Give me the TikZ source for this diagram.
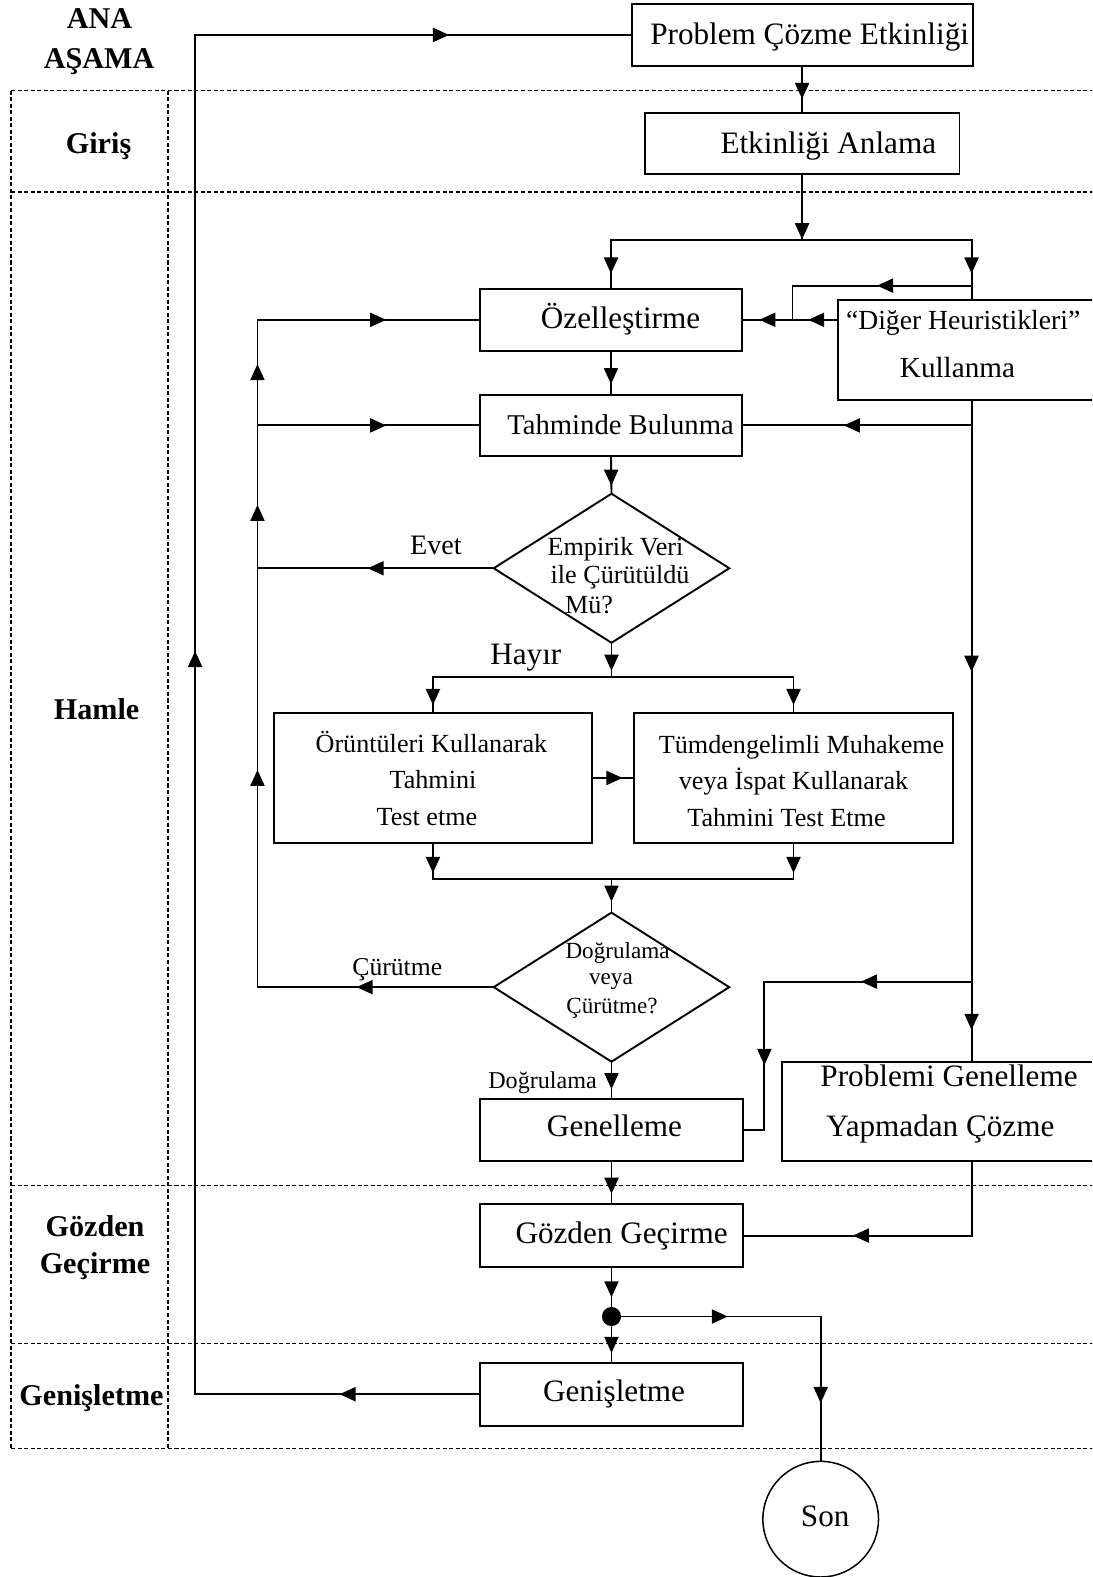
\documentclass[tikz,border=0pt]{standalone}
\usepackage{fontspec}
\setmainfont{Liberation Serif}
\usetikzlibrary{arrows.meta,decorations.markings,shapes.geometric}
\begin{document}
\begin{tikzpicture}[x=1pt,y=-1pt,
  box/.style={draw,rectangle,inner sep=0pt,line width=1.9pt},
  dia/.style={draw,diamond,inner sep=0pt,minimum width=235pt,minimum height=149pt,line width=1.9pt},
  conn/.style={line width=1.9pt,line cap=rect},
  ar/.style={conn,postaction={decorate},decoration={markings,mark=at position #1 with {\arrow{Triangle[length=16pt,width=14pt]}}}},
  frame/.style={line width=1.3pt,dash pattern=on 4pt off 2.5pt},
  txt/.style={anchor=base,inner sep=0pt},
  fsz/.style={font=\fontsize{#1}{#1}\selectfont},
  lab/.style={txt,font=\bfseries\fontsize{30}{36}\selectfont},
]
\useasboundingbox (0,0) rectangle (1086,1568);
\clip (0,0) rectangle (1086,1568);

% dashed phase frame
\draw[frame] (11,90) -- (1095,90);
\draw[frame] (11,191) -- (1095,191);
\draw[frame] (11,1179) -- (1095,1179);
\draw[frame] (11,1336) -- (1095,1336);
\draw[frame] (11,1440) -- (1095,1440);
\draw[frame] (11,90) -- (11,1440);
\draw[frame] (167,90) -- (167,1440);

% phase labels
\node[lab] (lana) at (99,28.2) {ANA};
\node[lab] (lasama) at (98.5,68) {AŞAMA};
\node[lab] (lgiris) at (98,152.5) {Giriş};
\node[lab] (lhamle) at (96,715) {Hamle};
\node[lab] (lgozden) at (94.5,1229.6) {Gözden};
\node[lab] (lgecirme) at (94.5,1266) {Geçirme};
\node[lab] (lgenis) at (91,1397) {Genişletme};

% boxes
\node[box,minimum width=339pt,minimum height=61.5pt] (pce) at (797.5,34.75) {};
\node[txt,fsz=31] (pcet) at (805,43.8) {Problem Çözme Etkinliği};
\node[box,minimum width=313pt,minimum height=61pt] (ea) at (797.5,142.5) {};
\node[txt,fsz=31] (eat) at (823.6,152.5) {Etkinliği Anlama};
\node[box,minimum width=261pt,minimum height=62pt] (oz) at (607.5,318) {};
\node[txt,fsz=31] (ozt) at (617,326.5) {Özelleştirme};
\node[box,minimum width=287pt,minimum height=100pt] (dh) at (976.5,348) {};
\node[txt,anchor=base west,fsz=27.5] (dht) at (841,328) {“Diğer Heuristikleri”};
\node[txt,fsz=29] (dht2) at (952,375) {Kullanma};
\node[box,minimum width=261pt,minimum height=60pt] (tb) at (607.5,423) {};
\node[txt,fsz=28.5] (tbt) at (617,432.5) {Tahminde Bulunma};

\node[dia] (d1) at (608,565) {};
\node[txt,fsz=26] (d1a) at (612,552.5) {Empirik Veri};
\node[txt,fsz=26] (d1b) at (616.5,580) {ile Çürütüldü};
\node[txt,fsz=26] (d1c) at (585.7,609.7) {Mü?};
\node[txt,fsz=28] (evet) at (433.4,551) {Evet};
\node[txt,fsz=31] (hayir) at (522.8,661) {Hayır};

\node[box,minimum width=317pt,minimum height=129pt] (oru) at (430.5,773.5) {};
\node[txt,fsz=26] (orua) at (429,748.4) {Örüntüleri Kullanarak};
\node[txt,fsz=26] (orub) at (430.5,784) {Tahmini};
\node[txt,fsz=26] (oruc) at (424.5,820.3) {Test etme};
\node[box,minimum width=318pt,minimum height=129pt] (tum) at (789,773.5) {};
\node[txt,fsz=26] (tuma) at (797,749) {Tümdengelimli Muhakeme};
\node[txt,fsz=26] (tumb) at (789,784.8) {veya İspat Kullanarak};
\node[txt,fsz=26] (tumc) at (782,821.3) {Tahmini Test Etme};

\node[dia] (d2) at (608,981.5) {};
\node[txt,fsz=23] (d2a) at (614,952.9) {Doğrulama};
\node[txt,fsz=23] (d2b) at (607.5,978.4) {veya};
\node[txt,fsz=23] (d2c) at (608.6,1007.6) {Çürütme?};
\node[txt,fsz=25.5] (curut) at (395,969.5) {Çürütme};
\node[txt,fsz=24] (dogru) at (539.5,1082) {Doğrulama};

\node[box,minimum width=261pt,minimum height=61.5pt] (gen) at (608,1123.75) {};
\node[txt,fsz=31] (gent) at (611,1130.2) {Genelleme};
\node[box,minimum width=342.5pt,minimum height=98.5pt] (pg) at (948.75,1105.25) {};
\node[txt,fsz=31] (pga) at (943.6,1080) {Problemi Genelleme};
\node[txt,fsz=31] (pgb) at (935,1130.2) {Yapmadan Çözme};
\node[box,minimum width=261pt,minimum height=63pt] (gg) at (608,1228.5) {};
\node[txt,fsz=31] (ggt) at (618,1236) {Gözden Geçirme};
\node[circle,fill,inner sep=0pt,minimum size=19pt] (dot) at (608,1309) {};
\node[box,minimum width=261pt,minimum height=62.5pt] (gn) at (608,1386.25) {};
\node[txt,fsz=31] (gnt) at (610.5,1393.7) {Genişletme};
\node[draw,circle,inner sep=0pt,minimum size=115pt,line width=1.5pt] (son) at (816,1510.5) {};
\node[txt,fsz=31] (sont) at (820.5,1518) {Son};

% coordinates
\coordinate (J1) at (797.5,239);
\coordinate (J1L) at (607.5,239);
\coordinate (J1R) at (966,239);
\coordinate (DN) at (966,298);
\coordinate (BR) at (966,284);
\coordinate (B1) at (788,284);
\coordinate (B2) at (788,318);
\coordinate (DW) at (833,318);
\coordinate (DS) at (966,398);
\coordinate (R1) at (966,423);
\coordinate (R2) at (966,976);
\coordinate (PN) at (966,1056);
\coordinate (G1) at (760,976);
\coordinate (G2) at (760,1123.75);
\coordinate (PS) at (966,1154.5);
\coordinate (R3) at (966,1228.5);
\coordinate (L1) at (256,318);
\coordinate (L2) at (256,423);
\coordinate (L3) at (256,565);
\coordinate (L4) at (256,981.5);
\coordinate (J2) at (608,673);
\coordinate (J2L) at (430.5,673);
\coordinate (J2R) at (789,673);
\coordinate (J3) at (608,874);
\coordinate (J3L) at (430.5,874);
\coordinate (J3R) at (789,874);
\coordinate (SN) at (816,1309);
\coordinate (LB) at (194,1386.25);
\coordinate (LT) at (194,34.75);

% connectors
\draw[ar=32pt] (pce.south) -- (ea.north);
\draw[ar=64pt] (ea.south) -- (J1);
\draw[conn] (J1L) -- (J1R);
\draw[ar=33pt] (J1L) -- (oz.north);
\draw[ar=33pt] (J1R) -- (DN);
\draw[ar=94pt] (BR) -- (B1);
\draw[conn] (B1) -- (B2);
\draw[ar=29.5pt] (DW) -- (B2);
\draw[ar=33pt] (B2) -- (oz.east);
\draw[ar=32pt] (oz.south) -- (tb.north);
\draw[conn] (DS) -- (R1);
\draw[ar=127pt] (R1) -- (tb.east);
\draw[ar=245pt] (R1) -- (R2);
\draw[ar=48pt] (R2) -- (PN);
\draw[ar=110pt] (R2) -- (G1);
\draw[ar=83pt] (G1) -- (G2);
\draw[conn] (G2) -- (gen.east);
\draw[conn] (PS) -- (R3);
\draw[ar=118pt] (R3) -- (gg.east);

\draw[ar=29pt] (tb.south) -- (d1.north);
\draw[ar=124pt] (d1.west) -- (L3);
\draw[ar=216pt] (L4) -- (L3);
\draw[ar=63pt] (L3) -- (L2);
\draw[ar=61pt] (L2) -- (L1);
\draw[ar=128pt] (L1) -- (oz.west);
\draw[ar=128pt] (L2) -- (tb.west);
\draw[ar=135pt] (d2.west) -- (L4);

\draw[ar=26.5pt] (d1.south) -- (J2);
\draw[conn] (J2L) -- (J2R);
\draw[ar=28pt] (J2L) -- (oru.north);
\draw[ar=28pt] (J2R) -- (tum.north);
\draw[ar=29pt] (oru.east) -- (tum.west);
\draw[ar=29pt] (oru.south) -- (J3L);
\draw[ar=29pt] (tum.south) -- (J3R);
\draw[conn] (J3L) -- (J3R);
\draw[ar=22.5pt] (J3) -- (d2.north);

\draw[ar=26pt] (d2.south) -- (gen.north);
\draw[ar=31.5pt] (gen.south) -- (gg.north);
\draw[ar=29pt] (gg.south) -- (dot);
\draw[ar=26.5pt] (dot) -- (gn.north);
\draw[ar=106pt] (dot) -- (SN);
\draw[ar=86pt] (SN) -- (son.north);
\draw[ar=139pt] (gn.west) -- (LB);
\draw[ar=739pt] (LB) -- (LT);
\draw[ar=252.5pt] (LT) -- (pce.west);
\end{tikzpicture}
\end{document}
